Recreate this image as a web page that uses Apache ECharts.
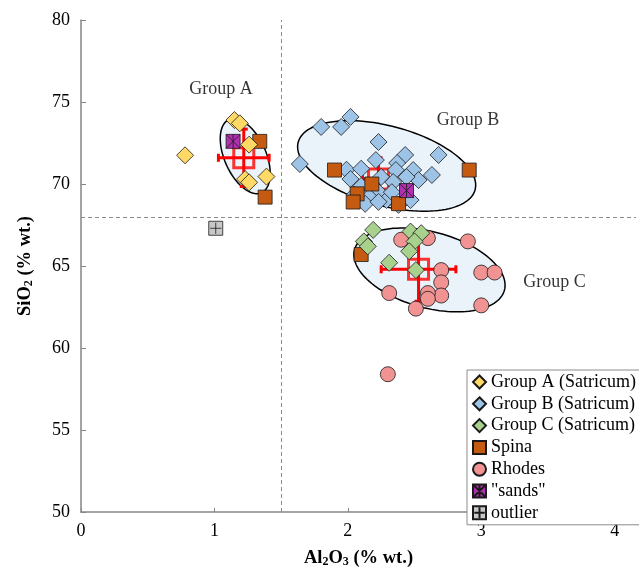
<!DOCTYPE html>
<html>
<head>
<meta charset="utf-8">
<script src="https://cdn.jsdelivr.net/npm/echarts@6/dist/echarts.min.js"></script>
<style>
  html, body { margin: 0; padding: 0; background: #ffffff; }
  #chart { width: 639px; height: 573px; }
</style>
</head>
<body>
<div id="chart"></div>
<script>
// Al2O3 (% wt.) vs SiO2 (% wt.) for each sample group
const groupA = [[0.78, 71.75], [1.15, 73.9], [1.19, 73.7], [1.26, 72.4], [1.23, 70.3], [1.26, 70.1], [1.39, 70.45]];
const groupB = [
  [1.64, 71.22], [1.80, 73.48], [1.95, 73.48], [2.02, 74.09], [2.23, 72.56], [2.43, 71.77],
  [2.68, 71.77], [2.21, 71.46], [2.37, 71.28], [1.99, 70.87], [2.02, 70.30], [2.10, 70.93],
  [2.10, 69.88], [2.25, 70.43], [2.36, 70.85], [2.49, 70.85], [2.53, 70.24], [2.63, 70.55],
  [2.34, 70.12], [2.23, 69.51], [2.16, 69.21], [2.29, 69.02], [2.47, 69.02], [2.38, 68.73],
  [2.13, 68.79], [2.23, 68.91], [2.05, 69.34], [2.44, 70.43], [2.33, 69.50]
];
const groupC = [[2.19, 67.2], [2.12, 66.5], [2.15, 66.2], [2.47, 67.1], [2.55, 67.0], [2.50, 66.5], [2.46, 65.9], [2.31, 65.2], [2.51, 64.75]];
const spina = [[1.34, 72.6], [1.38, 69.2], [1.90, 70.85], [2.07, 69.4], [2.04, 68.9], [2.18, 70.0], [2.38, 68.8], [2.91, 70.85], [2.10, 65.7]];
const rhodes = [
  [2.40, 66.6], [2.60, 66.7], [2.90, 66.5], [2.70, 64.75], [2.70, 64.0], [2.70, 63.2],
  [2.60, 63.35], [2.60, 63.0], [2.31, 63.35], [2.51, 62.4], [3.00, 62.6], [3.00, 64.6],
  [3.10, 64.6], [2.30, 58.4]
];
const sands = [[1.14, 72.6], [2.44, 69.6]];
const outlier = [[1.01, 67.3]];

// group means: [Al2O3, SiO2, Al2O3 std, SiO2 std]
const groupMeans = [[1.22, 71.6, 0.19, 1.75], [2.23, 70.3, 0.12, 1.3], [2.53, 64.8, 0.28, 1.95]];

// group envelopes: centre x, centre y, then two conjugate semi-axis vectors (data units)
const envelopes = [
  [1.231, 71.7, -0.122, 2.23, 0.142, 0.516],
  [2.291, 71.1, 0.663, -1.45, 0.077, 2.35],
  [2.612, 64.76, 0.562, -1.23, 0.073, 2.24]
];

// reference divisions
const alDivide = 1.5;
const siDivide = 68;

// group captions: [text, x, y]
const groupCaptions = [['Group A', 1.05, 75.8], ['Group B', 2.90, 73.9], ['Group C', 3.55, 64.0]];

const xRange = [0, 4.16];
const yRange = [50, 80];
const xStep = 1;
const yStep = 5;

const serif = '"Liberation Serif", "Times New Roman", serif';
const seriesNames = ['Group A (Satricum)', 'Group B (Satricum)', 'Group C (Satricum)', 'Spina', 'Rhodes', '"sands"', 'outlier'];

const sandsSymbol = 'path://M0,0 L10,0 L10,10 L0,10 Z M0,0 L10,10 M10,0 L0,10 M5,0 L5,10';
const outlierSymbol = 'path://M0,0 L10,0 L10,10 L0,10 Z M5,1 L5,9 M1,5 L9,5';

function envelopeItem(params, api) {
  const cx = api.value(0), cy = api.value(1);
  const ux = api.value(2), uy = api.value(3);
  const vx = api.value(4), vy = api.value(5);
  const pts = [];
  const n = 120;
  for (let i = 0; i < n; i++) {
    const t = (i / n) * Math.PI * 2;
    pts.push(api.coord([cx + ux * Math.cos(t) + vx * Math.sin(t), cy + uy * Math.cos(t) + vy * Math.sin(t)]));
  }
  return {
    type: 'polygon',
    shape: { points: pts },
    style: { fill: '#EAF2FA', stroke: '#000000', lineWidth: 1.5 }
  };
}

function errorBarItem(params, api) {
  const x = api.value(0), y = api.value(1), ex = api.value(2), ey = api.value(3);
  const l = api.coord([x - ex, y]), r = api.coord([x + ex, y]);
  const t = api.coord([x, y + ey]), b = api.coord([x, y - ey]);
  const cap = 4;
  const style = { stroke: '#FF0000', lineWidth: 3 };
  const seg = (x1, y1, x2, y2) => ({ type: 'line', shape: { x1, y1, x2, y2 }, style });
  return {
    type: 'group',
    children: [
      seg(l[0], l[1], r[0], r[1]),
      seg(l[0], l[1] - cap, l[0], l[1] + cap),
      seg(r[0], r[1] - cap, r[0], r[1] + cap),
      seg(t[0], t[1], b[0], b[1]),
      seg(t[0] - cap, t[1], t[0] + cap, t[1]),
      seg(b[0] - cap, b[1], b[0] + cap, b[1])
    ]
  };
}

function pointSeries(name, data, symbol, size, color, z) {
  return {
    name, type: 'scatter', data, symbol, symbolSize: size, z,
    itemStyle: { color, borderColor: '#1a1a1a', borderWidth: 0.8, opacity: 1 },
    emphasis: { disabled: true }
  };
}

const titleRich = {
  b: { fontFamily: serif, fontSize: 18.5, fontWeight: 'bold', color: '#000' },
  s: { fontFamily: serif, fontSize: 12, fontWeight: 'bold', color: '#000', padding: [8, 0, 0, 0] }
};

const chart = echarts.init(document.getElementById('chart'), null, { renderer: 'canvas' });

chart.setOption({
  animation: false,
  backgroundColor: '#ffffff',
  grid: { left: 81, right: 0, top: 20, bottom: 61, containLabel: false },
  xAxis: {
    type: 'value', min: xRange[0], max: xRange[1], interval: xStep,
    name: '{b|Al}{s|2}{b|O}{s|3}{b| (% wt.)}',
    nameLocation: 'middle', nameGap: 36,
    nameTextStyle: { rich: titleRich },
    axisLine: { lineStyle: { color: '#868686', width: 1.5 } },
    axisTick: { inside: true, length: 4, lineStyle: { color: '#868686' } },
    splitLine: { show: false },
    axisLabel: {
      fontFamily: serif, fontSize: 18, color: '#000', margin: 10,
      formatter: v => (Math.abs(v - Math.round(v)) < 1e-9 ? String(Math.round(v)) : '')
    }
  },
  yAxis: {
    type: 'value', min: yRange[0], max: yRange[1], interval: yStep,
    name: '{b|SiO}{s|2}{b| (% wt.)}',
    nameLocation: 'middle', nameGap: 46,
    nameTextStyle: { rich: titleRich },
    axisLine: { show: true, lineStyle: { color: '#868686', width: 1.5 } },
    axisTick: { show: true, inside: true, length: 5, lineStyle: { color: '#868686' } },
    splitLine: { show: false },
    axisLabel: { fontFamily: serif, fontSize: 18, color: '#000', margin: 11 }
  },
  legend: {
    orient: 'vertical', left: 467, top: 370,
    data: seriesNames,
    itemWidth: 13, itemHeight: 13, itemGap: 3.8,
    backgroundColor: '#ffffff', borderColor: '#8c8c8c', borderWidth: 1,
    padding: [3, 10, 3, 5],
    selectedMode: false,
    textStyle: { fontFamily: serif, fontSize: 18, color: '#000' }
  },
  series: [
    {
      name: 'envelopes', type: 'custom', renderItem: envelopeItem, data: envelopes, z: 1, silent: true,
      encode: { x: 0, y: 1 }
    },
    {
      name: 'divisions', type: 'scatter', data: [], z: 1, silent: true,
      markLine: {
        silent: true, symbol: 'none', animation: false,
        label: { show: false },
        lineStyle: { type: [4, 3], color: '#8a8a8a', width: 1 },
        emphasis: { disabled: true },
        data: [{ xAxis: alDivide }, { yAxis: siDivide }]
      }
    },
    {
      name: 'std', type: 'custom', renderItem: errorBarItem, data: groupMeans, z: 2, silent: true,
      encode: { x: 0, y: 1 }
    },
    {
      name: 'means', type: 'scatter', data: groupMeans.map(m => [m[0], m[1]]), symbol: 'rect', symbolSize: 20, z: 2,
      silent: true,
      itemStyle: { color: 'rgba(0,0,0,0)', borderColor: '#FF0000', borderWidth: 3 }
    },
    pointSeries(seriesNames[1], groupB, 'diamond', 17, '#9DC3E6', 3),
    pointSeries(seriesNames[3], spina, 'rect', 14, '#C55A11', 4),
    pointSeries(seriesNames[4], rhodes, 'circle', 15, '#F19393', 5),
    pointSeries(seriesNames[2], groupC, 'diamond', 17, '#A9D18E', 6),
    pointSeries(seriesNames[0], groupA, 'diamond', 17, '#FFD966', 7),
    pointSeries(seriesNames[5], sands, sandsSymbol, 14, '#B030B0', 8),
    pointSeries(seriesNames[6], outlier, outlierSymbol, 14, '#C8C8C8', 8),
    {
      name: 'captions', type: 'scatter', z: 9, silent: true,
      symbolSize: 0,
      data: groupCaptions.map(c => ({ name: c[0], value: [c[1], c[2]] })),
      label: {
        show: true, position: 'inside', formatter: '{b}',
        fontFamily: serif, fontSize: 18, color: '#000'
      }
    }
  ]
});
</script>
</body>
</html>
